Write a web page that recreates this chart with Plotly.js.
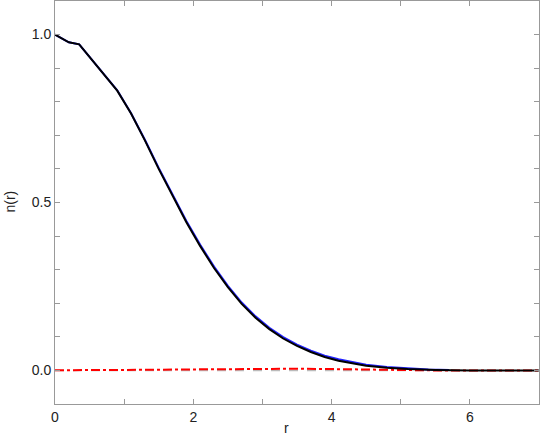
<!DOCTYPE html>
<html>
<head>
<meta charset="utf-8">
<script src="https://cdn.plot.ly/plotly-3.0.1.min.js"></script>
<style>html,body{margin:0;padding:0;background:#fff;}#chart{width:559px;height:440px;}</style>
</head>
<body>
<div id="chart"></div>
<script>
// r grid and series
const rBlack = [0, 0.2, 0.35, 0.5, 0.7, 0.9, 1.1, 1.3, 1.5, 1.7, 1.9, 2.1, 2.3, 2.5, 2.7, 2.9, 3.1, 3.3, 3.5, 3.7, 3.9, 4.1, 4.3, 4.5, 4.8, 5.1, 5.5, 6.0, 7.0];
const nBlack = [1.0, 0.977, 0.971, 0.934, 0.884, 0.833, 0.765, 0.685, 0.60, 0.519, 0.441, 0.37, 0.305, 0.248, 0.198, 0.157, 0.123, 0.095, 0.073, 0.055, 0.040, 0.029, 0.021, 0.014, 0.008, 0.004, 0.0015, 0.0, 0.0];

const rBlue = [0, 0.2, 0.35, 0.5, 0.7, 0.9, 1.1, 1.3, 1.5, 1.7, 1.9, 2.1, 2.3, 2.5, 2.7, 2.9, 3.1, 3.3, 3.5, 3.7, 3.9, 4.1, 4.3, 4.5, 4.8, 5.1, 5.4, 5.7];
const nBlue = [1.0, 0.977, 0.971, 0.934, 0.884, 0.834, 0.766, 0.687, 0.603, 0.522, 0.445, 0.374, 0.309, 0.252, 0.202, 0.161, 0.127, 0.099, 0.077, 0.059, 0.044, 0.033, 0.024, 0.017, 0.010, 0.006, 0.003, 0.001];

const rRed = [0, 0.5, 1.0, 1.5, 2.0, 2.5, 3.0, 3.5, 4.0, 4.5, 5.0, 5.5, 6.0, 7.0];
const nRed = [0.0005, 0.0005, 0.001, 0.002, 0.003, 0.004, 0.005, 0.005, 0.004, 0.002, 0.0, 0.0, 0.0, 0.0];

const rZero = [0, 7];
const nZero = [0, 0];

const xTitle = 'r';
const yTitle = 'n(r)';

const traces = [
  {x: rZero, y: nZero, mode: 'lines', line: {color: '#bbbbbb', width: 1.5, dash: 'dash'}, showlegend: false, hoverinfo: 'skip'},
  {x: rRed, y: nRed, mode: 'lines', line: {color: '#ff0000', width: 2, dash: 'dashdot'}, showlegend: false},
  {x: rBlue, y: nBlue, mode: 'lines', line: {color: '#2222ff', width: 2}, showlegend: false},
  {x: rBlack, y: nBlack, mode: 'lines', line: {color: '#000000', width: 2}, showlegend: false}
];

const fontFam = 'Liberation Sans, Arial, sans-serif';
const axisCommon = {
  showline: true, linecolor: '#999999', linewidth: 1, mirror: 'ticks',
  ticks: 'inside', ticklen: 5, tickcolor: '#999999', tickwidth: 1,
  showgrid: false, zeroline: false,
  tickfont: {family: fontFam, size: 14, color: '#222222'}
};

const layout = {
  width: 559, height: 440,
  margin: {l: 55, r: 20, t: 1, b: 36},
  paper_bgcolor: '#ffffff', plot_bgcolor: '#ffffff',
  showlegend: false,
  xaxis: Object.assign({}, axisCommon, {
    range: [0, 7], tickmode: 'linear', tick0: 0, dtick: 2,
    minor: {dtick: 1, ticks: 'inside', ticklen: 5, tickcolor: '#999999'}
  }),
  yaxis: Object.assign({}, axisCommon, {
    range: [-0.1, 1.1], tickmode: 'linear', tick0: 0, dtick: 0.5, tickformat: '.1f',
    minor: {dtick: 0.1, ticks: 'inside', ticklen: 5, tickcolor: '#999999'}
  }),
  annotations: [
    {text: xTitle, xref: 'paper', yref: 'paper', x: (286 - 55) / 484, y: -(427 - 403) / 402,
     xanchor: 'center', yanchor: 'middle', showarrow: false, font: {family: fontFam, size: 14, color: '#222222'}},
    {text: yTitle, xref: 'paper', yref: 'paper', x: (10 - 55) / 484, y: (403 - 201) / 402,
     xanchor: 'center', yanchor: 'middle', textangle: -90, showarrow: false, font: {family: fontFam, size: 14, color: '#222222'}}
  ]
};

Plotly.newPlot('chart', traces, layout, {displayModeBar: false, staticPlot: true});
</script>
</body>
</html>
